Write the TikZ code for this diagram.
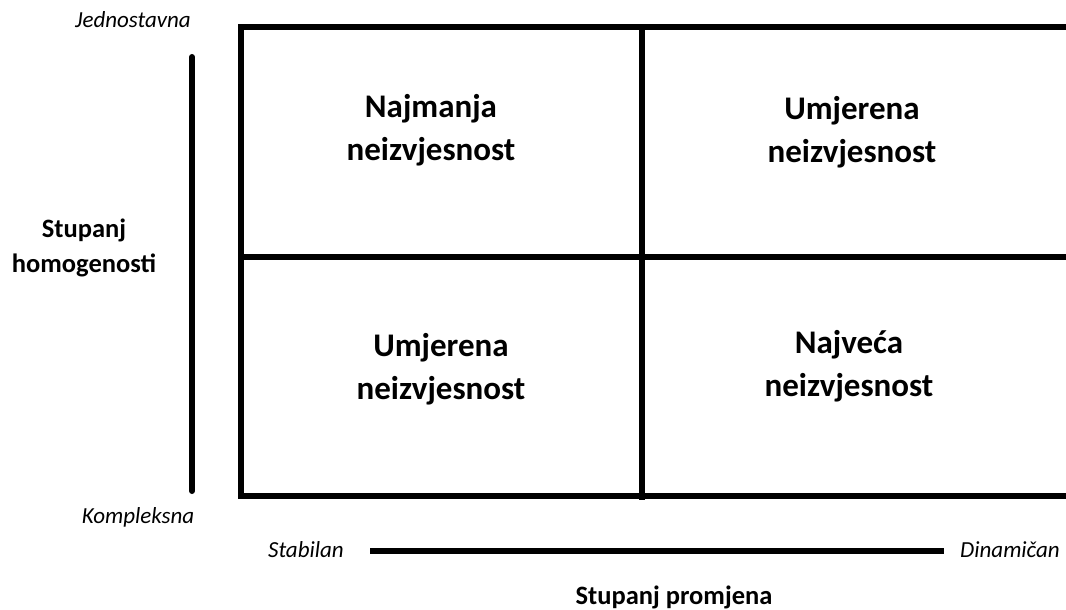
\documentclass[tikz,border=0pt]{standalone}
\usepackage{fontspec}
\setmainfont{Carlito}
\usetikzlibrary{positioning}

\tikzset{
  cell/.style={font=\fontsize{33}{43}\selectfont\bfseries, align=center},
  axislabel/.style={font=\fontsize{26.5}{35}\selectfont\bfseries, align=center},
  endlabel/.style={font=\fontsize{23}{26}\selectfont\itshape},
  thickline/.style={line width=6pt}
}

\begin{document}
\begin{tikzpicture}[x=1pt,y=-1pt]
  % Frame
  \useasboundingbox (0,0) rectangle (1066,610);

  % Grid
  \draw[thickline] (1072,27) -- (241,27) -- (241,496) -- (1072,496);
  \draw[thickline] (241,257) -- (1072,257);
  \draw[thickline] (642,27) -- (642,500);

  % Cells
  \node[cell] (ll) at (431,130) {Najmanja\\neizvjesnost};
  \node[cell] (lr) at (852,132) {Umjerena\\neizvjesnost};
  \node[cell] (ul) at (441,369) {Umjerena\\neizvjesnost};
  \node[cell] (ur) at (849,366) {Najveća\\neizvjesnost};

  % Vertical axis
  \coordinate (vtop) at (192,57);
  \coordinate (vbot) at (192,491);
  \draw[thickline, line cap=round] (vtop) -- (vbot);
  \node[endlabel] (jed) at (133,20) {Jednostavna};
  \node[endlabel] (kom) at (138,517) {Kompleksna};
  \node[axislabel] (homog) at (84,248) {Stupanj\\homogenosti};

  % Horizontal axis
  \coordinate (hleft) at (370,551);
  \coordinate (hright) at (944,551);
  \draw[thickline] (hleft) -- (hright);
  \node[endlabel] (stab) at (306,550) {Stabilan};
  \node[endlabel] (din) at (1010,550) {Dinamičan};
  \node[axislabel] (promj) at (674,597) {Stupanj promjena};
\end{tikzpicture}
\end{document}
